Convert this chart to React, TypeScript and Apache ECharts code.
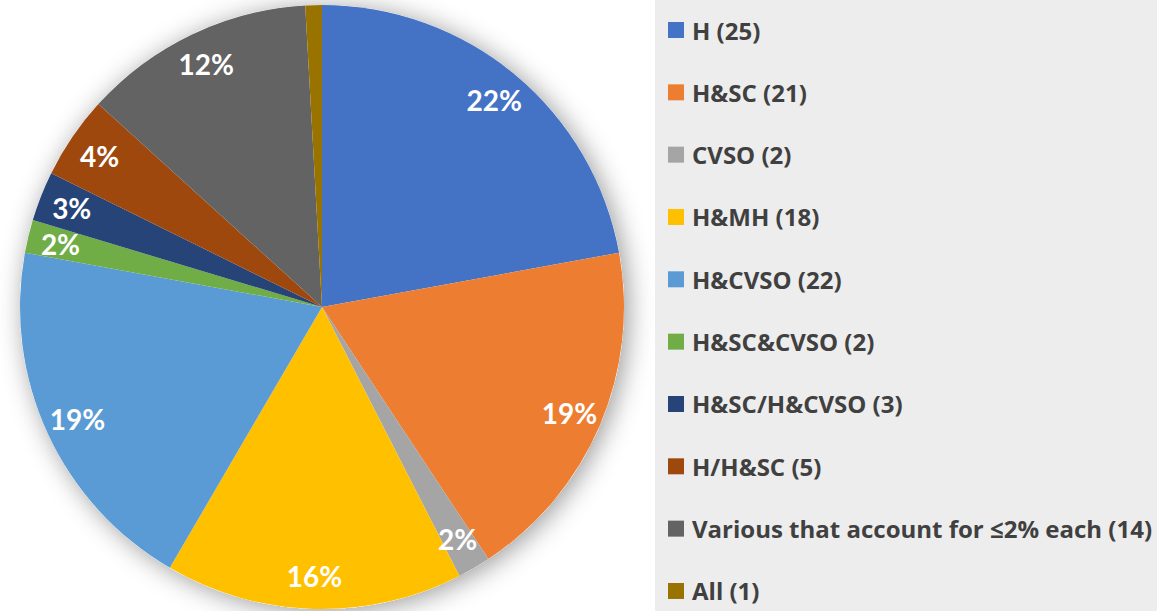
import React, { useEffect, useRef } from "react";
import * as echarts from "echarts";

const categories = [
  "H (25)",
  "H&SC (21)",
  "CVSO (2)",
  "H&MH (18)",
  "H&CVSO (22)",
  "H&SC&CVSO (2)",
  "H&SC/H&CVSO (3)",
  "H/H&SC (5)",
  "Various that account for ≤2% each (14)",
  "All (1)",
];
const values = [25, 21, 2, 18, 22, 2, 3, 5, 14, 1];
const colors = [
  "#4472C4",
  "#ED7D31",
  "#A5A5A5",
  "#FFC000",
  "#5B9BD5",
  "#70AD47",
  "#264478",
  "#9E480E",
  "#636363",
  "#997300",
];
const hiddenLabels = ["All (1)"];

const LABEL_FONT = "Lato";
const LEGEND_FONT = "Open Sans";

export default function App() {
  const ref = useRef<HTMLDivElement>(null);
  useEffect(() => {
    document.body.style.margin = "0";
    const chart = echarts.init(ref.current!, null, { renderer: "svg" });
    const cx = 322;
    const cy = 307;
    const R = 302;
    const mainData = categories.map((name, i) => ({
      name,
      value: values[i],
      itemStyle: { color: colors[i] },
    }));
    const labelData = categories.map((name, i) => ({
      name,
      value: values[i],
      itemStyle: { color: "rgba(0,0,0,0)" },
      label: { show: !hiddenLabels.includes(name) },
    }));
    chart.setOption({
      animation: false,
      backgroundColor: "#ffffff",
      color: colors,
      graphic: [
        {
          type: "rect",
          shape: { x: 655, y: 0, width: 502, height: 611 },
          style: { fill: "#EDEDED" },
          z: -10,
          silent: true,
        },
      ],
      legend: {
        orient: "vertical",
        left: 668,
        top: 17,
        height: 605,
        padding: 0,
        itemWidth: 16,
        itemHeight: 16,
        itemGap: 36.33,
        icon: "rect",
        data: categories,
        selectedMode: false,
        textStyle: {
          fontFamily: LEGEND_FONT,
          fontWeight: "bold",
          fontSize: 24,
          lineHeight: 26,
          color: "#404040",
          padding: [0, 0, 0, 3],
        },
      },
      series: [
        {
          type: "pie",
          name: "shadow",
          center: [cx, cy],
          radius: [0, R],
          silent: true,
          label: { show: false },
          labelLine: { show: false },
          data: [
            {
              name: "__shadow",
              value: 1,
              itemStyle: {
                color: "#ffffff",
                shadowBlur: 26,
                shadowColor: "rgba(0,0,0,0.4)",
                shadowOffsetX: 4,
                shadowOffsetY: 3,
              },
            },
          ],
        },
        {
          type: "pie",
          name: "main",
          center: [cx, cy],
          radius: [0, R],
          startAngle: 90,
          clockwise: true,
          silent: true,
          label: { show: false },
          labelLine: { show: false },
          itemStyle: { borderWidth: 0 },
          data: mainData,
        },
        {
          type: "pie",
          name: "labels",
          center: [cx, cy],
          radius: [230, R],
          startAngle: 90,
          clockwise: true,
          silent: true,
          legendHoverLink: false,
          labelLine: { show: false },
          label: {
            show: true,
            position: "inside",
            formatter: (p: any) => Math.round(p.percent) + "%",
            fontFamily: LABEL_FONT,
            fontWeight: "bold",
            fontSize: 28,
            color: "#ffffff",
          },
          data: labelData,
        },
      ],
    });
    return () => chart.dispose();
  }, []);
  return <div ref={ref} style={{ width: 1157, height: 611 }} />;
}
